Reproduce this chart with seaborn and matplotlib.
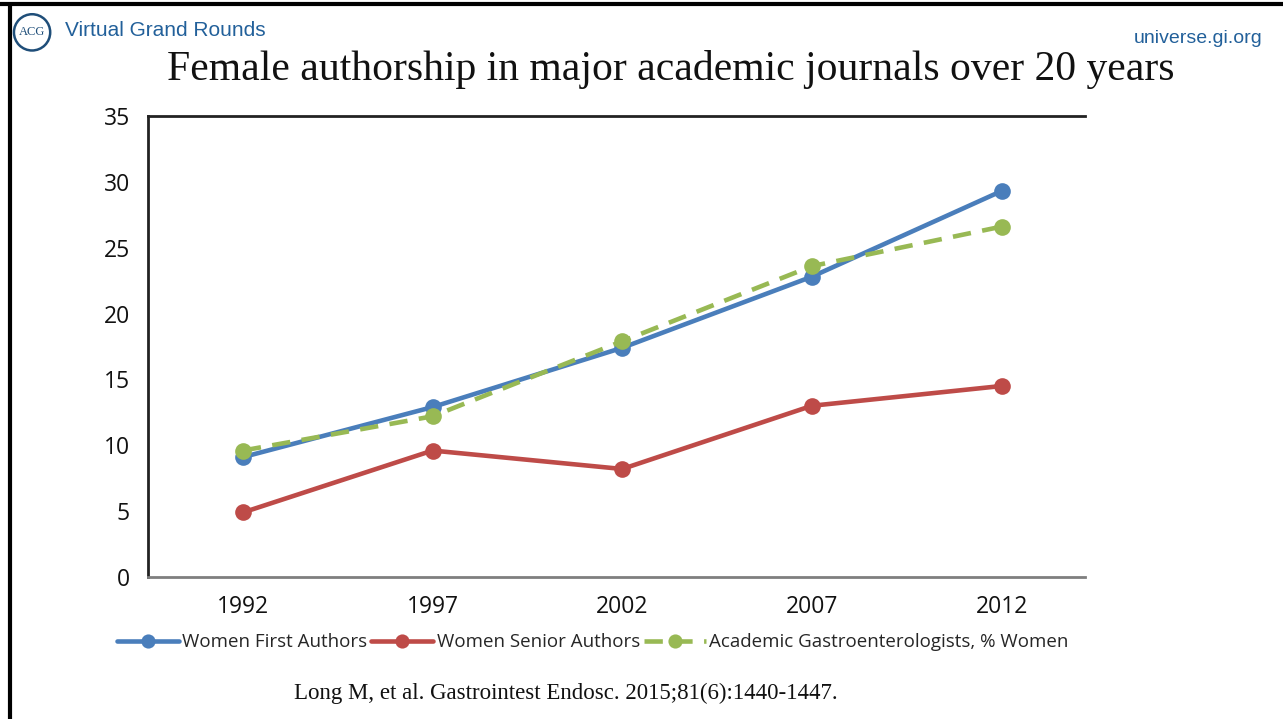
import matplotlib
matplotlib.use("Agg")
import matplotlib.pyplot as plt
import pandas as pd
import seaborn as sns
from matplotlib.lines import Line2D

# Data
years = ["1992", "1997", "2002", "2007", "2012"]
first_authors = [9.1, 12.9, 17.4, 22.8, 29.3]
senior_authors = [4.9, 9.6, 8.2, 13.0, 14.5]
gi_women = [9.6, 12.2, 17.9, 23.6, 26.6]
y_ticks = [0, 5, 10, 15, 20, 25, 30, 35]

series_names = [
    "Women First Authors",
    "Women Senior Authors",
    "Academic Gastroenterologists, % Women",
]
colors = ["#4a7ebb", "#be4b48", "#98b954"]

sns.set_theme(style="white")
plt.rcParams["font.family"] = ["Open Sans", "DejaVu Sans"]

fig = plt.figure(figsize=(12.83, 7.19), dpi=100)
ax = fig.add_axes([0.1154, 0.1975, 0.7303, 0.6412])

for name, values, color in zip(series_names, [first_authors, senior_authors, gi_women], colors):
    df = pd.DataFrame({"year": years, "value": values})
    sns.lineplot(
        data=df, x="year", y="value", ax=ax, color=color, linewidth=3.3,
        marker="o", markersize=12, markeredgewidth=0, label=name,
        sort=False,
    )
    # the GI workforce series is drawn dashed, as in the source slide
    if name.startswith("Academic"):
        ax.lines[-1].set_dashes([4, 2.5])

ax.set_xlim(-0.5, 4.44)
ax.set_ylim(0, 35)
ax.set_yticks(y_ticks)
ax.set_xlabel("")
ax.set_ylabel("")
ax.tick_params(axis="both", length=0, labelsize=16.5, colors="#111111")
ax.tick_params(axis="x", pad=13)
ax.tick_params(axis="y", pad=13)

for side in ["left", "top"]:
    ax.spines[side].set_color("#222222")
    ax.spines[side].set_linewidth(2.0)
ax.spines["bottom"].set_color("#7f7f7f")
ax.spines["bottom"].set_linewidth(2.0)
ax.spines["right"].set_visible(False)

handles, labels = ax.get_legend_handles_labels()
ax.get_legend().remove()
fig.legend(
    handles, labels, loc="center", bbox_to_anchor=(0.462, 0.107), ncol=3,
    frameon=False, fontsize=13.5, handlelength=3.3, handletextpad=0.2,
    columnspacing=0.2, markerscale=0.85,
)

# Slide decoration
fig.text(0.523, 0.904, "Female authorship in major academic journals over 20 years",
         ha="center", va="center", fontsize=30, family=["Liberation Serif"], color="#111111")
fig.text(0.441, 0.036, "Long M, et al. Gastrointest Endosc. 2015;81(6):1440-1447.",
         ha="center", va="center", fontsize=16.5, family=["Liberation Serif"], color="#111111")
fig.text(0.051, 0.957, "Virtual Grand Rounds", ha="left", va="center",
         fontsize=15, family=["Liberation Sans"], color="#22609a")
fig.text(0.984, 0.946, "universe.gi.org", ha="right", va="center",
         fontsize=14, family=["Liberation Sans"], color="#22609a")
fig.text(0.025, 0.955, "ACG", ha="center", va="center", fontsize=9,
         family=["Liberation Serif"], color="#1f4e79",
         bbox=dict(boxstyle="circle,pad=0.4", fc="white", ec="#1f4e79", lw=1.8))

fig.add_artist(Line2D([0, 1], [0.995, 0.995], color="black", lw=3, transform=fig.transFigure))
fig.add_artist(Line2D([0.0075, 0.0075], [0, 0.995], color="black", lw=3, transform=fig.transFigure))

fig.savefig("out.png", dpi=100)
